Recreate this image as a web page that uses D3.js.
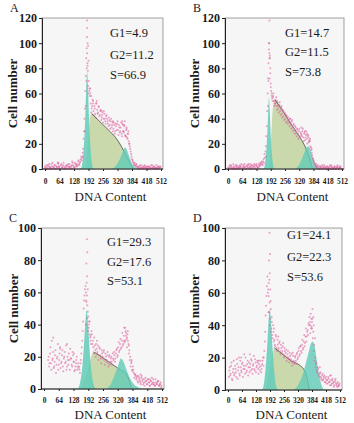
<!DOCTYPE html>
<html>
<head>
<meta charset="utf-8">
<script src="https://cdn.jsdelivr.net/npm/d3@7"></script>
<style>
  html, body { margin: 0; padding: 0; background: #fff; }
  svg { display: block; }
  text { font-family: "Liberation Serif", "DejaVu Serif", serif; fill: #1a1a1a; }
</style>
</head>
<body>
<div id="chart"></div>
<script>
// histogram channels: first set at x = 2 + 4*i, second set at x = 4*i (DNA content); values = cell number
const xTicks = [0, 64, 128, 192, 256, 320, 384, 448, 512];
const xTickLabels = ['0', '64', '128', '192', '256', '320', '384', '418', '512'];

const aCounts = [1,3,0,2,4,1,0,2,5,1,3,0,2,1,4,2,0,3,1,2,5,1,0,3,2,4,1,2,0,3,5,2,1,4,3,2,6,4,
  5,8,7,13,24,40, 62,88,112,98, 70,58,52,48,55,
  46,50,44,52,47,45,49,43,47,41,45,40,44,38,42,
  40,36,41,35,38,33,37,32,35,30,34,36,31,35,29,
  33,28,36,30,34,27,31,25,28,22, 18,14,10,7,5,4,3,
  3,2,1,2,0,1,3,1,0,2,1,2,0,1,2,0,1,3,1,0,2,1,0,1,2,0,1,2];
const aCounts2 = [2,0,1,3,0,2,1,4,0,2,1,3,0,2,5,1,2,0,4,1,3,0,2,1,3,0,2,4,1,2,0,3,1,5,2,4,3,7,
  3,6,10,9,16,30, 48,74,96,82, 86,64,60,45,50,
  52,43,48,41,54,44,50,42,46,39,43,37,46,40,36,
  43,38,34,39,32,40,35,30,37,28,36,31,38,27,33,
  30,37,26,35,29,38,26,33,24,30, 20,16,12,8,6,3,5,
  2,4,1,0,2,3,1,0,2,1,3,0,1,2,0,2,1,0,3,1,2,0,1,3,0,1,2,1];
const bCounts = [0,2,1,3,0,1,2,0,3,1,0,2,1,3,2,0,1,2,4,1,0,2,3,1,2,0,3,1,2,4,1,3,2,1,4,2,3,5,
  4,6,5,9,18,34, 60,84,92,76, 62,56,58,54,52,
  55,50,53,48,51,46,49,44,47,42,45,40,43,38,41,
  37,40,35,38,33,36,31,34,29,32,28,30,26,29,27,
  30,25,28,23,27,24,26,21,23,18, 15,11,8,6,4,3,2,
  2,1,0,2,1,3,0,1,2,1,0,2,1,0,3,1,2,0,1,2,0,1,2,1,0,1,2,0];
const bCounts2 = [1,0,3,1,2,0,4,1,0,2,3,1,0,2,1,4,0,3,1,2,0,3,1,4,0,2,1,3,0,2,3,0,4,2,1,3,5,4,
  6,3,8,12,14,26, 46,72,100,88, 68,58,54,60,50,
  52,57,47,50,45,53,43,48,41,46,39,44,37,42,36,
  39,34,37,32,39,30,35,28,33,26,31,24,32,25,28,
  26,32,22,29,25,30,20,27,22,24, 17,13,9,7,5,2,4,
  1,3,0,2,1,0,2,1,3,0,1,2,0,1,2,0,3,1,0,1,2,0,1,3,0,2,1,0];
const cCounts = [null,null,null,null,
  18,14,22,16,30,19,13,17,24,15,20,12,18,26,16,21,14,19,23,17,12,20,15,18,25,19,14,21,17,12,16,20,14,13,
  12,16,22,30,42,55, 62,60,58,48, 40,34,30,36,28,
  26,32,24,28,22,27,21,25,19,24,20,23,18,22,17,
  21,16,20,15,19,17,22,18,21,19,24,20,26,23,28,
  25,30,27,33,29,36,31,34,28,24, 20,16,12,14,10,9,8,
  7,5,8,6,4,7,5,3,6,4,5,3,6,4,2,5,3,4,6,3,2,4,3,5,2,3,4,2];
const cCounts2 = [null,null,null,null,null,
  20,16,26,12,18,23,14,21,10,19,28,15,22,13,17,24,11,20,16,27,14,18,22,12,19,15,23,17,11,14,18,12,16,
  14,10,18,26,36,50, 58,64,54,44, 36,42,32,28,34,
  30,22,27,20,25,23,18,26,21,16,22,19,24,15,20,
  18,23,14,21,17,20,15,19,23,17,22,25,21,29,24,
  31,26,35,28,38,30,33,26,30,22, 18,14,17,11,12,7,9,
  6,8,4,7,5,3,8,6,4,2,7,5,3,6,4,2,5,7,3,4,2,6,3,4,5,2,3,1];
const dCounts = [null,
  12,9,15,7,11,18,10,13,8,16,12,20,9,14,11,17,13,22,10,15,12,18,14,11,16,19,13,15,21,12,17,14,18,13,16,12,15,
  13,18,15,24,36,52, 64,60,66,54, 44,38,34,40,30,
  28,34,26,31,25,29,24,28,23,27,22,26,21,25,20,
  24,19,23,18,22,17,21,16,20,18,22,19,24,21,27,
  24,28,25,30,27,33,30,36,34,40, 42,47,39,44,36,28,20,
  16,12,14,10,8,11,7,9,6,8,5,7,4,6,8,5,3,6,4,7,5,3,6,4,2,5,3,4];
const dCounts2 = [null,
  8,14,10,17,6,13,9,15,11,19,7,14,10,18,12,16,8,15,13,20,11,16,9,17,14,12,18,10,16,13,19,11,15,17,10,14,18,
  11,16,20,20,30,46, 58,70,62,48, 40,36,42,32,36,
  31,27,33,24,28,26,30,22,26,24,29,20,24,23,18,
  22,20,17,21,19,15,23,18,17,21,16,23,20,26,22,
  27,23,31,26,34,29,38,33,37,41, 45,40,44,38,32,24,18,
  14,17,11,13,9,10,8,6,10,7,9,5,8,6,4,7,5,9,3,6,4,2,5,7,3,4,2,3];

// extra scattered events [x, y]
const aExtra = [[186,118],[185,105],[188,100],[186,92],[187,84],[184,80],[189,78],[183,70],[190,66],[180,50],
  [176,30],[192,60],[196,62],[200,64],[204,58],[212,54],[226,52],[250,46],[300,38],[340,38],[350,35],
  [360,32],[355,26],[345,30],[366,28],[372,20],[166,10],[120,6],[60,5]];
const bExtra = [[186,118],[185,100],[184,95],[188,90],[186,88],[190,80],[187,72],[182,70],[180,50],
  [192,65],[196,60],[202,57],[220,54],[240,50],[280,40],[330,33],[345,30],[355,28],[362,25],[368,22],
  [376,16],[170,10],[100,4]];
const cExtra = [[186,93],[188,85],[184,78],[187,70],[185,66],[190,62],[183,55],[188,52],[192,45],[182,40],
  [194,38],[198,42],[202,33],[230,30],[352,38],[356,35],[360,32],[348,30],[364,36],[368,27],[40,32],
  [70,25],[100,28],[130,22],[380,18],[420,9],[460,6]];
const dExtra = [[190,97],[192,84],[188,80],[191,72],[189,68],[193,62],[186,58],[195,55],[184,48],[196,50],
  [200,45],[210,38],[230,33],[386,50],[390,45],[384,42],[380,38],[392,40],[376,35],[398,32],[60,20],
  [100,22],[140,18],[420,14],[470,9]];

// fitted phases [x, y]
const aG1 = [[158,0],[162,2],[170,14],[174,26],[178,42],[182,64],[186,77],[190,64],[194,42],[198,26],[202,14],[210,2],[214,0]];
const aS  = [[178,0],[186,12],[194,32],[200,42],[206,44],[240,38],[280,31],[316,24],[340,17],[360,10],[378,4],[390,0]];
const aG2 = [[290,0],[310,2],[325,6],[340,12],[352,17],[362,15],[372,10],[385,4],[400,1],[410,0]];
const bG1 = [[160,0],[164,2],[170,10],[174,20],[178,34],[181,48],[184,57],[187,48],[190,34],[194,20],[198,10],[204,2],[208,0]];
const bS  = [[186,0],[192,18],[198,40],[204,52],[210,55],[250,45],[290,34],[320,26],[343,19],[360,12],[372,5],[380,0]];
const bG2 = [[300,0],[318,3],[332,8],[345,14],[358,18],[366,17],[375,12],[386,6],[398,2],[410,0]];
const cG1 = [[146,0],[155,3],[165,12],[172,24],[178,38],[185,49],[192,38],[198,24],[205,12],[215,3],[224,0]];
const cS  = [[160,0],[175,5],[192,13],[205,20],[215,23],[260,19],[300,15],[330,12],[353,10],[368,6],[380,0]];
const cG2 = [[270,0],[290,3],[305,8],[320,14],[334,19],[345,17],[358,12],[372,7],[390,3],[410,1],[425,0]];
const dG1 = [[155,0],[163,3],[171,12],[178,25],[184,39],[191,50],[198,39],[204,25],[211,12],[219,3],[228,0]];
const dS  = [[170,0],[182,6],[195,16],[204,23],[212,26],[250,22],[290,18],[330,15],[350,12],[362,7],[372,0]];
const dG2 = [[300,0],[320,3],[340,9],[355,16],[370,24],[380,29],[388,30],[396,27],[405,19],[415,10],[425,4],[438,0]];

const aStats = ['G1=4.9', 'G2=11.2', 'S=66.9'];
const bStats = ['G1=14.7', 'G2=11.5', 'S=73.8'];
const cStats = ['G1=29.3', 'G2=17.6', 'S=53.1'];
const dStats = ['G1=24.1', 'G2=22.3', 'S=53.6'];

// layout of the four panels (pixels)
const panels = [
  { id: 'A', counts: aCounts, counts2: aCounts2, extra: aExtra, g1: aG1, s: aS, g2: aG2, stats: aStats, ymax: 120,
    left: 42, right: 163, top: 18, bottom: 169, statX: 110, statY: [37, 59, 79],
    yLabelX: 12, tickY: 184, titleY: 201 },
  { id: 'B', counts: bCounts, counts2: bCounts2, extra: bExtra, g1: bG1, s: bS, g2: bG2, stats: bStats, ymax: 120,
    left: 225, right: 344, top: 18, bottom: 169, statX: 285, statY: [37, 56, 76],
    yLabelX: 194, tickY: 184, titleY: 201 },
  { id: 'C', counts: cCounts, counts2: cCounts2, extra: cExtra, g1: cG1, s: cS, g2: cG2, stats: cStats, ymax: 100,
    left: 41, right: 164, top: 228, bottom: 389, statX: 107, statY: [246, 266, 285],
    yLabelX: 13, tickY: 403, titleY: 419 },
  { id: 'D', counts: dCounts, counts2: dCounts2, extra: dExtra, g1: dG1, s: dS, g2: dG2, stats: dStats, ymax: 100,
    left: 225, right: 342, top: 228, bottom: 390, statX: 287, statY: [239, 261, 281],
    yLabelX: 194, tickY: 403, titleY: 419 }
];

const W = 354, H = 423;
const svg = d3.select('#chart').append('svg').attr('width', W).attr('height', H);

panels.forEach(function(p) {
  const x = d3.scaleLinear().domain([0, 512]).range([p.left + 3, p.right - 2]);
  const y = d3.scaleLinear().domain([0, p.ymax]).range([p.bottom, p.top]);
  const g = svg.append('g');

  // plot box
  g.append('rect').attr('x', p.left).attr('y', p.top)
    .attr('width', p.right - p.left).attr('height', p.bottom - p.top)
    .attr('fill', '#f6f6f6').attr('stroke', '#8a8a8a').attr('stroke-width', 0.8);

  const area = d3.area().x(d => x(d[0])).y0(y(0)).y1(d => y(d[1])).curve(d3.curveMonotoneX);
  const line = d3.line().x(d => x(d[0])).y(d => y(d[1])).curve(d3.curveMonotoneX);

  g.append('path').attr('d', area(p.s)).attr('fill', '#c6d7a6').attr('fill-opacity', 0.95);
  g.append('path').attr('d', line(p.s.filter(d => d[0] >= p.s[4][0])))
    .attr('fill', 'none').attr('stroke', '#4a4a4a').attr('stroke-width', 0.8);
  g.append('path').attr('d', area(p.g1)).attr('fill', '#62cbb8').attr('fill-opacity', 0.85);
  g.append('path').attr('d', area(p.g2)).attr('fill', '#62cbb8').attr('fill-opacity', 0.8);

  const dots = p.counts.map((v, i) => [2 + 4 * i, v])
    .concat(p.counts2.map((v, i) => [4 * i, v]))
    .filter(d => d[1] !== null).concat(p.extra);
  g.selectAll('circle.dot').data(dots).enter().append('circle')
    .attr('class', 'dot')
    .attr('cx', d => x(d[0])).attr('cy', d => y(d[1]))
    .attr('r', 1).attr('fill', '#dc5a9a').attr('fill-opacity', 0.55);

  // axes
  const yAxis = d3.axisLeft(y).tickValues(d3.range(0, p.ymax + 1, 20)).tickSize(3).tickPadding(2);
  const ya = g.append('g').attr('transform', 'translate(' + p.left + ',0)').call(yAxis);
  ya.selectAll('text').style('font-size', '12px').style('font-weight', 'bold')
    .style('font-family', '"Liberation Serif", serif');

  const xAxis = d3.axisBottom(x).tickValues(xTicks).tickSize(2)
    .tickFormat((d, i) => xTickLabels[i]);
  const xa = g.append('g').attr('transform', 'translate(0,' + p.bottom + ')').call(xAxis);
  xa.selectAll('text').attr('y', null).attr('dy', null)
    .attr('transform', 'translate(0,' + (p.tickY - p.bottom) + ')')
    .style('font-size', '7.4px').style('font-weight', 'bold')
    .style('font-family', '"Liberation Serif", serif');
  xa.select('.domain').attr('d', 'M' + p.left + ',0H' + p.right);
  [ya, xa].forEach(a => { a.selectAll('line').attr('stroke', '#222'); a.select('.domain').attr('stroke', '#222'); });

  // labels
  g.append('text').attr('x', p.left - 32).attr('y', p.top - 6).text(p.id)
    .style('font-size', '12px');
  g.append('text')
    .attr('transform', 'translate(' + p.yLabelX + ',' + ((p.top + p.bottom) / 2) + ') rotate(-90)')
    .attr('text-anchor', 'middle').attr('dy', '0.35em')
    .style('font-size', '13px').style('font-weight', 'bold').text('Cell number');
  g.append('text').attr('x', (p.left + p.right) / 2 + 8).attr('y', p.titleY)
    .attr('text-anchor', 'middle').style('font-size', '13px').text('DNA Content');

  g.selectAll('text.stat').data(p.stats).enter().append('text')
    .attr('class', 'stat')
    .attr('x', p.statX).attr('y', (d, i) => p.statY[i])
    .style('font-size', '12.5px').text(d => d);
});
</script>
</body>
</html>
